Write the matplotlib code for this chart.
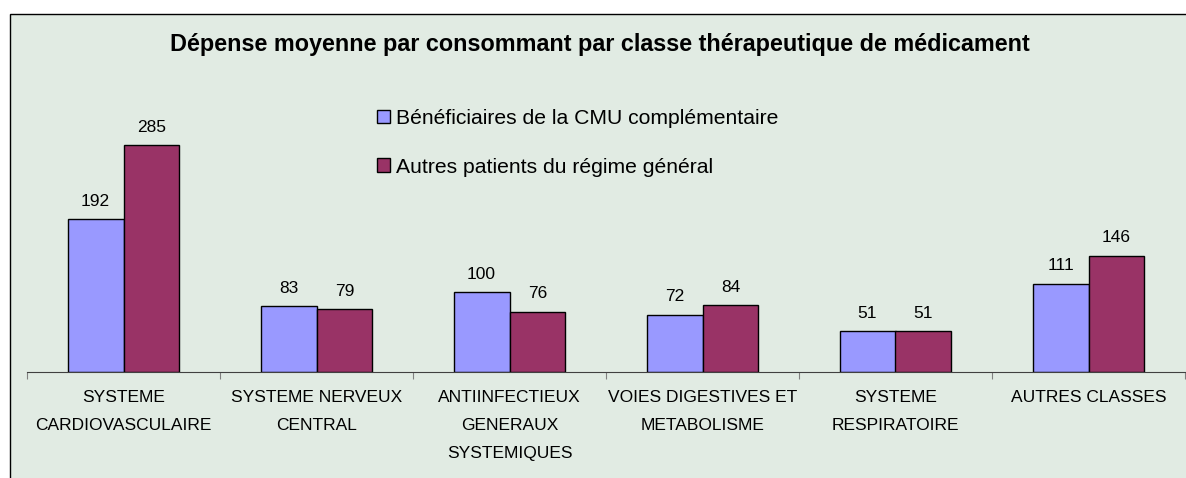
import matplotlib
matplotlib.use("Agg")
import matplotlib.pyplot as plt
from matplotlib.patches import Rectangle, Patch
import numpy as np

plt.rcParams['font.family'] = ['Liberation Sans', 'DejaVu Sans']

categories = ["SYSTEME\nCARDIOVASCULAIRE", "SYSTEME NERVEUX\nCENTRAL",
              "ANTIINFECTIEUX\nGENERAUX\nSYSTEMIQUES", "VOIES DIGESTIVES ET\nMETABOLISME",
              "SYSTEME\nRESPIRATOIRE", "AUTRES CLASSES"]
cmu = [192, 83, 100, 72, 51, 111]
autres = [285, 79, 76, 84, 51, 146]
series_names = ["Bénéficiaires de la CMU complémentaire", "Autres patients du régime général"]
title = "Dépense moyenne par consommant par classe thérapeutique de médicament"

W, H = 1186, 478
fig = plt.figure(figsize=(W/100, H/100), dpi=100)
fig.patch.set_facecolor('white')
bg = '#E1EBE3'
frame = Rectangle((10/W, -0.1), 1.2, (H-14)/H + 0.1, transform=fig.transFigure,
                  facecolor=bg, edgecolor='black', linewidth=1.0, zorder=-5)
fig.patches.append(frame)

ax = fig.add_axes([27/W, (H-372)/H, (1185-27)/W, (372-14)/H])
ax.set_facecolor('none')
ax.set_zorder(2)
x = np.arange(len(categories))
bw = 0.29
b1 = ax.bar(x - bw/2, cmu, bw, color='#9999FF', edgecolor='black', linewidth=1.0)
b2 = ax.bar(x + bw/2, autres, bw, color='#993366', edgecolor='black', linewidth=1.0)
for bars, vals in ((b1, cmu), (b2, autres)):
    for r, v in zip(bars, vals):
        ax.annotate(str(v), (r.get_x() + r.get_width()/2, v), xytext=(0, 7.5),
                    textcoords='offset points', ha='center', va='bottom', fontsize=12.5)

ax.set_xlim(-0.5, len(categories) - 0.5)
ax.set_ylim(0, 358/0.796)
for s in ('top', 'right', 'left'):
    ax.spines[s].set_visible(False)
ax.spines['bottom'].set_color('#404040')
ax.set_yticks([])
ax.set_xticks(np.arange(len(categories) + 1) - 0.5)
ax.set_xticklabels([])
ax.tick_params(axis='x', which='major', length=5, color='#808080', direction='out')
ax.set_xticks(x, minor=True)
ax.set_xticklabels(categories, minor=True, fontsize=12.5, linespacing=2.08, va='top')
ax.tick_params(axis='x', which='minor', length=0, pad=13)

fig.text(600/W, 1 - 45/H, title, ha='center', va='center', fontsize=16.8, fontweight='bold')

handles = [Patch(facecolor='#9999FF', edgecolor='black'), Patch(facecolor='#993366', edgecolor='black')]
fig.legend(handles, series_names, loc='upper left', bbox_to_anchor=(377/W, 1 - 109/H),
           frameon=False, fontsize=15.2, handlelength=0.6, handleheight=0.6,
           handletextpad=0.3, labelspacing=1.4, borderpad=0, borderaxespad=0)

fig.savefig('out.png', dpi=100, facecolor='white')
